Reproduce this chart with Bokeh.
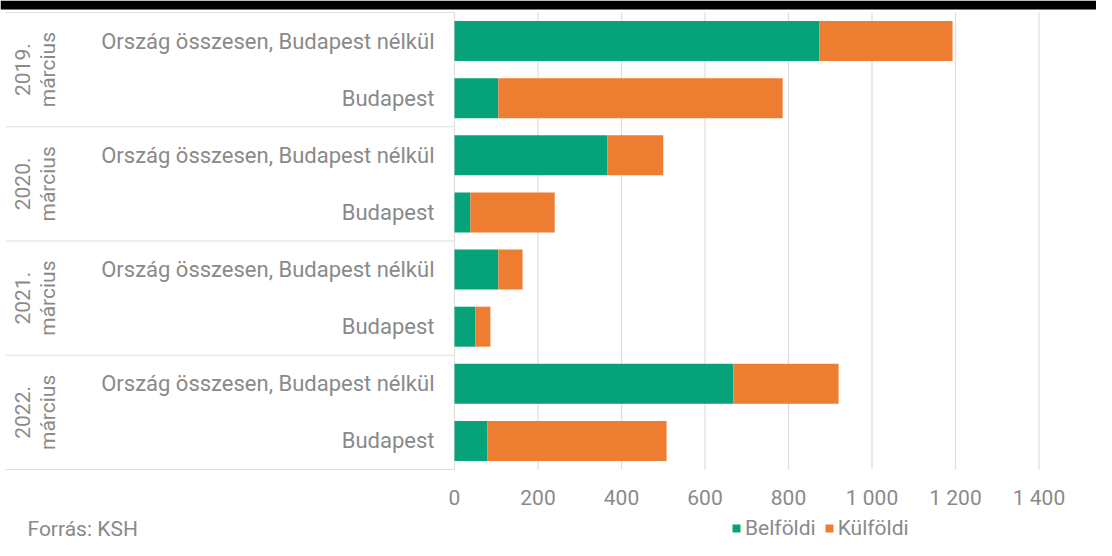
import math
from bokeh.plotting import figure
from bokeh.models import Range1d, ColumnDataSource, Label
from bokeh.core.properties import value
from bokeh.embed import file_html
from bokeh.resources import INLINE

# ---- data ----
periods = ["2019. március", "2020. március", "2021. március", "2022. március"]
regions = ["Ország összesen, Budapest nélkül", "Budapest"]
belfoldi = [874, 105, 366, 38, 105, 50, 668, 79]
kulfoldi = [319, 681, 134, 202, 58, 36, 252, 429]
x_ticks = [0, 200, 400, 600, 800, 1000, 1200, 1400]
x_tick_labels = ["0", "200", "400", "600", "800", "1 000", "1 200", "1 400"]
series_names = ["Belföldi", "Külföldi"]
source_note = "Forrás: KSH"

GREEN = "#06a27a"
ORANGE = "#ed7d31"
TEXT = "#8a8a8a"
GRID = "#dedede"
FONT = "Roboto"

W, H = 1096, 540
X0_PX = 454.0          # pixel of value 0
PX_PER_UNIT = 0.4175   # pixels per unit on x
TOP_PX = 12.0          # top of the bar area
ROW_PX = 57.125        # height of one row

x_start = -X0_PX / PX_PER_UNIT
x_end = (W - X0_PX) / PX_PER_UNIT
y_top = -TOP_PX / ROW_PX
y_bottom = (H - TOP_PX) / ROW_PX

rows = [(per, reg) for per in periods for reg in regions]
n_rows = len(rows)
row_pos = [i + 0.5 for i in range(n_rows)]
group_pos = [2 * i + 1 for i in range(len(periods))]
bounds = [2 * i for i in range(len(periods) + 1)]

src = ColumnDataSource(dict(
    y=row_pos,
    bel=belfoldi,
    kul=kulfoldi,
    region=[r[1] for r in rows],
))

p = figure(width=W, height=H, output_backend="svg", toolbar_location=None,
           x_range=Range1d(x_start, x_end),
           y_range=Range1d(y_bottom, y_top),
           x_axis_location=None, y_axis_location=None,
           min_border=0)
p.outline_line_color = None
p.grid.visible = False
p.background_fill_color = "white"
p.border_fill_color = "white"

# black cropped top edge of the original screenshot (decoration)
p.quad(left=[x_start], right=[x_end], top=[y_top], bottom=[y_top + 9 / ROW_PX],
       fill_color="black", line_color=None)

# vertical grid lines
p.segment(x0=x_ticks, x1=x_ticks, y0=[0] * len(x_ticks), y1=[n_rows] * len(x_ticks),
          line_color=GRID, line_width=1.2)

# group separators in the label area
sep_left = x_start + 5 / PX_PER_UNIT
p.segment(x0=[sep_left] * len(bounds), x1=[0] * len(bounds), y0=bounds, y1=bounds,
          line_color=GRID, line_width=1.2)

rs = p.hbar_stack(["bel", "kul"], y="y", height=0.7, source=src,
                  color=[GREEN, ORANGE], line_color=None,
                  legend_label=series_names)

# x tick labels
p.text(x=x_ticks, y=[n_rows] * len(x_ticks), text=x_tick_labels, y_offset=28,
       text_align="center", text_baseline="middle",
       text_font=value(FONT), text_font_size="21px", text_color=TEXT)

# region labels
p.text(x=0, y="y", text="region", source=src, x_offset=-20,
       text_align="right", text_baseline="middle",
       text_font=value(FONT), text_font_size="22px", text_color=TEXT)

# period labels (two rotated lines)
years = [per.split(" ")[0] for per in periods]
months = [per.split(" ")[1] for per in periods]
p.text(x=0, y=group_pos, text=years, x_offset=-432, angle=math.pi / 2,
       text_align="center", text_baseline="middle",
       text_font=value(FONT), text_font_size="21px", text_color=TEXT)
p.text(x=0, y=group_pos, text=months, x_offset=-407, angle=math.pi / 2,
       text_align="center", text_baseline="middle",
       text_font=value(FONT), text_font_size="21px", text_color=TEXT)

# legend
leg = p.legend[0]
leg.location = (731, 0)
leg.orientation = "horizontal"
leg.border_line_color = None
leg.background_fill_alpha = 0
leg.padding = 0
leg.margin = 0
leg.spacing = 8
leg.glyph_width = 10
leg.glyph_height = 10
leg.label_standoff = 4
leg.label_text_font = FONT
leg.label_text_font_size = "21px"
leg.label_text_color = TEXT

p.add_layout(Label(x=27, y=12, x_units="screen", y_units="screen", text=source_note,
                   text_font=FONT, text_font_size="21px", text_color=TEXT,
                   text_baseline="middle"))

open("out.html", "w").write(file_html(p, INLINE))
